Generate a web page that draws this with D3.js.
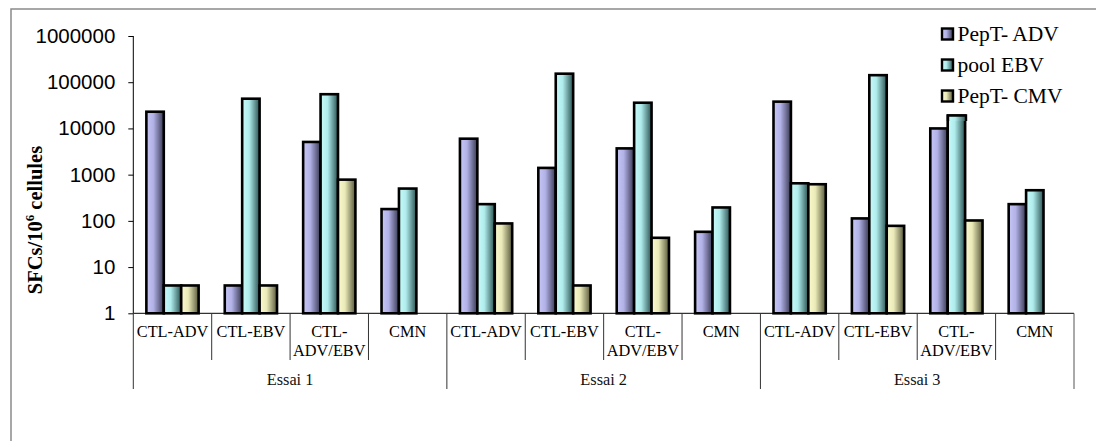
<!DOCTYPE html>
<html>
<head>
<meta charset="utf-8">
<script src="https://cdn.jsdelivr.net/npm/d3@7"></script>
<style>
  html, body { margin: 0; padding: 0; background: #fff; }
  svg { display: block; }
</style>
</head>
<body>
<div id="chart"></div>
<script>
// SFCs par essai / condition / stimulation (échelle log)
const groups = ["Essai 1", "Essai 2", "Essai 3"];
const cats = ["CTL-ADV", "CTL-EBV", "CTL-ADV/EBV", "CMN"];
const series = ["PepT- ADV", "pool EBV", "PepT- CMV"];
const adv = [23000, 4, 5100, 180, 6000, 1400, 3700, 58, 38000, 113, 10000, 230];
const ebv = [4, 44000, 55000, 500, 230, 153000, 36000, 195, 650, 142000, 19000, 460];
const cmv = [4, 4, 780, null, 88, 4, 43, null, 620, 78, 102, null];
const yTicks = [1, 10, 100, 1000, 10000, 100000, 1000000];

const W = 1096, H = 441;
const plot = { left: 133.3, right: 1074, top: 36, bottom: 313.3 };

const svg = d3.select("#chart").append("svg").attr("width", W).attr("height", H);

// dégradés façon Excel (clair à gauche, sombre à droite)
const cols = [
  ["#c6c6f6", "#b2b2e8", "#383852"],
  ["#c8fafa", "#b0ecec", "#2a5252"],
  ["#fafad0", "#eaeab8", "#58583c"]
];
const defs = svg.append("defs");
cols.forEach((c, i) => {
  const g = defs.append("linearGradient").attr("id", "grad" + i)
    .attr("x1", 0).attr("x2", 1).attr("y1", 0).attr("y2", 0);
  g.append("stop").attr("offset", "0%").attr("stop-color", c[0]);
  g.append("stop").attr("offset", "40%").attr("stop-color", c[1]);
  g.append("stop").attr("offset", "100%").attr("stop-color", c[2]);
});

// cadre gris
svg.append("rect").attr("x", 11).attr("y", 9).attr("width", 1200).attr("height", 600)
  .attr("fill", "none").attr("stroke", "#8a8a8a").attr("stroke-width", 1.5);

const keys = [];
groups.forEach((g) => cats.forEach((c) => keys.push(g + "|" + c)));
const values = [adv, ebv, cmv];

const x = d3.scaleBand().domain(keys).range([plot.left, plot.right]).paddingInner(0).paddingOuter(0);
const xs = d3.scaleBand().domain(series).range([0, x.bandwidth()]).paddingInner(0).paddingOuter(0.75);
const y = d3.scaleLog().domain([1, 1e6]).range([plot.bottom, plot.top]);

// barres
series.forEach((s, si) => {
  const data = keys.map((k, i) => ({ k, v: values[si][i] })).filter((d) => d.v != null);
  svg.append("g").selectAll("rect").data(data).join("rect")
    .attr("x", (d) => x(d.k) + xs(s))
    .attr("y", (d) => y(d.v))
    .attr("width", xs.bandwidth())
    .attr("height", (d) => y(1) - y(d.v))
    .attr("fill", `url(#grad${si})`)
    .attr("stroke", "#000").attr("stroke-width", 2.6);
});

// axe Y
const yAxis = svg.append("g").attr("transform", `translate(${plot.left},0)`)
  .call(d3.axisLeft(y).tickValues(yTicks).tickFormat(d3.format("d")).tickSize(5).tickPadding(13));
yAxis.select(".domain").attr("stroke", "#000").attr("d", `M0,${plot.top}V${plot.bottom}`);
yAxis.selectAll(".tick line").attr("stroke", "#000");
yAxis.selectAll("text").attr("font-family", "Liberation Sans, Arial, sans-serif")
  .attr("font-size", 20.5).attr("fill", "#000");

// axe X (catégories à deux niveaux)
const xa = svg.append("g");
xa.append("line").attr("x1", plot.left).attr("x2", plot.right)
  .attr("y1", plot.bottom).attr("y2", plot.bottom).attr("stroke", "#000");
keys.forEach((k, i) => {
  const x0 = x(k);
  if (i % 4 !== 0) xa.append("line").attr("x1", x0).attr("x2", x0)
    .attr("y1", plot.bottom).attr("y2", 360).attr("stroke", "#333");
  const name = k.split("|")[1];
  const cx = x0 + x.bandwidth() / 2;
  const lines = name === "CTL-ADV/EBV" ? ["CTL-", "ADV/EBV"] : [name];
  lines.forEach((t, li) => {
    xa.append("text").attr("x", cx).attr("y", 336.5 + li * 19).attr("text-anchor", "middle")
      .attr("font-family", "Liberation Serif, Times New Roman, serif").attr("font-size", 16.3)
      .attr("fill", "#000").text(t);
  });
});
groups.forEach((g, gi) => {
  const x0 = x(g + "|" + cats[0]);
  const x1 = x0 + x.bandwidth() * cats.length;
  xa.append("line").attr("x1", x0).attr("x2", x0).attr("y1", plot.bottom).attr("y2", 389).attr("stroke", "#333");
  if (gi === groups.length - 1)
    xa.append("line").attr("x1", x1).attr("x2", x1).attr("y1", plot.bottom).attr("y2", 389).attr("stroke", "#555");
  xa.append("text").attr("x", (x0 + x1) / 2).attr("y", 385).attr("text-anchor", "middle")
    .attr("font-family", "Liberation Serif, Times New Roman, serif").attr("font-size", 16.3)
    .attr("fill", "#111").text(g);
});

// titre axe Y
const yl = svg.append("text").attr("transform", "translate(41.5,220) rotate(-90)")
  .attr("text-anchor", "middle").attr("font-family", "Liberation Serif, Times New Roman, serif")
  .attr("font-weight", "bold").attr("font-size", 20.5).attr("fill", "#000");
yl.append("tspan").text("SFCs/10");
yl.append("tspan").attr("font-size", 13).attr("dy", -7.5).text("6");
yl.append("tspan").attr("dy", 7.5).text(" cellules");

// légende
const lg = svg.append("g").attr("transform", "translate(942,0)");
series.forEach((s, i) => {
  const cy = 34 + i * 31;
  lg.append("rect").attr("x", 0).attr("y", cy - 5.5).attr("width", 11).attr("height", 11)
    .attr("fill", `url(#grad${i})`).attr("stroke", "#000").attr("stroke-width", 2.4);
  lg.append("text").attr("x", 15.5).attr("y", cy + 6.5)
    .attr("font-family", "Liberation Serif, Times New Roman, serif").attr("font-size", 21.5)
    .attr("fill", "#000").text(s);
});
// entrée tronquée sous la légende
lg.append("path").attr("d", "M6,121V115.5H24V121")
  .attr("fill", "url(#grad1)").attr("stroke", "#000").attr("stroke-width", 2.4);
</script>
</body>
</html>
